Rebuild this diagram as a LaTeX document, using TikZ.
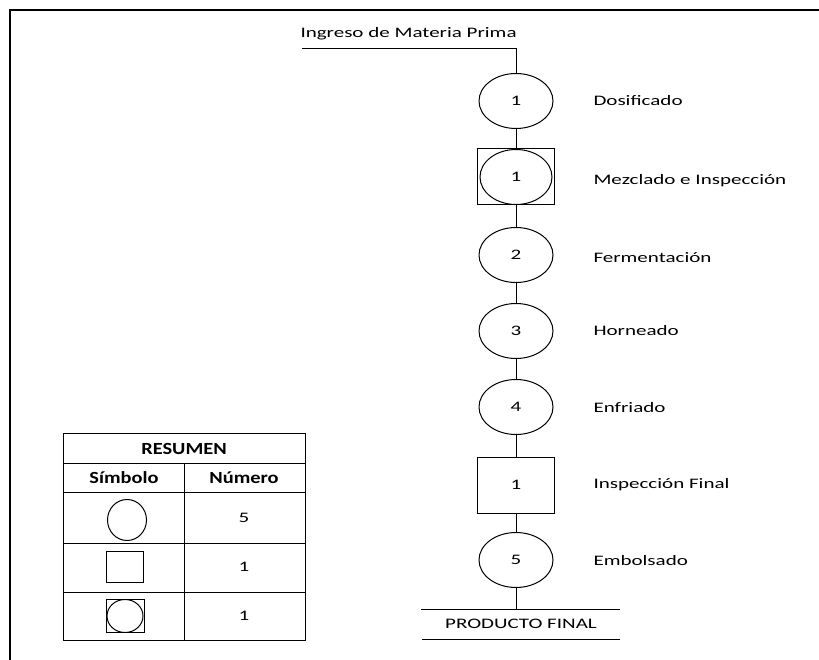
\documentclass[tikz,border=0pt]{standalone}
\usepackage{fontspec}
\setmainfont{Carlito}[FakeStretch=1.45, BoldFeatures={FakeStretch=1.2}]
\usetikzlibrary{shapes.geometric}
\begin{document}
\begin{tikzpicture}[x=1pt,y=-1pt,
  line width=1pt,
  txt/.style={font=\fontsize{14.5}{16}\selectfont, inner sep=0pt},
  btxt/.style={txt, font=\fontsize{17}{19}\selectfont\bfseries},
  lbl/.style={txt, anchor=west},
  oper/.style={ellipse, draw, minimum width=74pt, minimum height=55pt, inner sep=0pt, txt},
  insp/.style={rectangle, draw, minimum width=77pt, minimum height=56pt, inner sep=0pt, txt},
  frameline/.style={line width=2.2pt}
]
\useasboundingbox (0,0) rectangle (819,660);
% outer frame (top and left edges)
\draw[frameline] (10,660) -- (10,10) -- (819,10);

% starting label and feed line
\node[txt, anchor=base west] (start) at (300,38) {Ingreso de Materia Prima};
\coordinate (feed) at (302,49);
\coordinate (bend) at (516,49);

% process sequence
\node[oper] (d1) at (516,101) {1};
\node[insp] (m1) at (516,177) {};
\node[ellipse, draw, minimum width=72pt, minimum height=55pt, inner sep=0pt, txt] (m1c) at (516,177) {1};
\node[oper] (f2) at (516,255) {2};
\node[oper] (h3) at (516,331) {3};
\node[oper] (e4) at (516,407) {4};
\node[insp] (i1) at (516,485) {1};
\node[oper] (b5) at (516,560) {5};

% step labels
\node[lbl] (ld1) at (593,101) {Dosificado};
\node[lbl] (lm1) at (593,181) {Mezclado e Inspección};
\node[lbl] (lf2) at (593,258) {Fermentación};
\node[lbl] (lh3) at (593,331) {Horneado};
\node[lbl] (le4) at (593,408) {Enfriado};
\node[lbl] (li1) at (593,485) {Inspección Final};
\node[lbl] (lb5) at (593,561) {Embolsado};

% connectors
\draw (feed) -- (bend) -- (d1.north);
\draw (d1.south) -- (m1.north);
\draw (m1.south) -- (f2.north);
\draw (f2.south) -- (h3.north);
\draw (h3.south) -- (e4.north);
\draw (e4.south) -- (i1.north);
\draw (i1.south) -- (b5.north);

% final product
\coordinate (pfl) at (421,609);
\coordinate (pfr) at (620,609);
\coordinate (pfend) at (516,609);
\draw (b5.south) -- (pfend);
\draw (pfl) -- (pfr);
\draw (422,639) -- (620,639);
\node[txt] (pf) at (521,624) {PRODUCTO FINAL};

% summary table
\draw (63,433) rectangle (305,640);
\draw (63,463) -- (305,463);
\draw (63,492) -- (305,492);
\draw (63,543) -- (305,543);
\draw (63,592) -- (305,592);
\draw (184,463) -- (184,640);
\node[btxt] (tres) at (184,449) {RESUMEN};
\node[btxt] (tsym) at (124,478) {Símbolo};
\node[btxt] (tnum) at (244,478) {Número};
\node[ellipse, draw, minimum width=39pt, minimum height=41pt, inner sep=0pt] (sc) at (127,520) {};
\node[rectangle, draw, minimum width=37pt, minimum height=31pt, inner sep=0pt] (ss) at (125,567) {};
\node[rectangle, draw, minimum width=38pt, minimum height=33pt, inner sep=0pt] (sb) at (125,616) {};
\node[ellipse, draw, minimum width=36pt, minimum height=33pt, inner sep=0pt] (sbc) at (125,616) {};
\node[txt] (n1) at (244,518) {5};
\node[txt] (n2) at (244,567) {1};
\node[txt] (n3) at (244,616) {1};
\end{tikzpicture}
\end{document}
